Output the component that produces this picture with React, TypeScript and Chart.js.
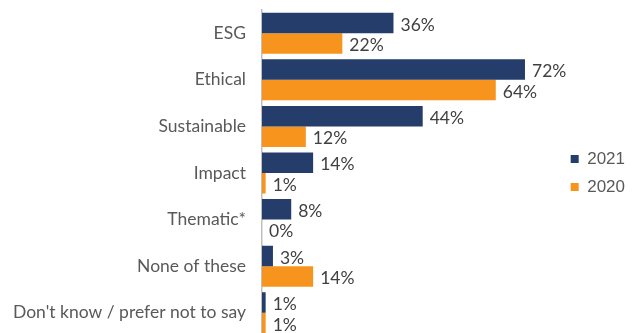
import React, { useEffect, useRef } from "react";
import { Chart, registerables } from "chart.js";

Chart.register(...registerables);

const categories = [
  "ESG",
  "Ethical",
  "Sustainable",
  "Impact",
  "Thematic*",
  "None of these",
  "Don't know / prefer not to say",
];
const values2021 = [36, 72, 44, 14, 8, 3, 1];
const values2020 = [22, 64, 12, 1, 0, 14, 1];
const seriesNames = ["2021", "2020"];

const labelPlugin = {
  id: "barValueLabels",
  afterDatasetsDraw(chart: any) {
    const ctx = chart.ctx;
    ctx.save();
    ctx.font = "17.5px Lato";
    ctx.fillStyle = "#404040";
    ctx.textAlign = "left";
    ctx.textBaseline = "middle";
    chart.data.datasets.forEach((ds: any, di: number) => {
      const meta = chart.getDatasetMeta(di);
      meta.data.forEach((el: any, i: number) => {
        ctx.fillText(ds.data[i] + "%", el.x + 7, el.y + 2);
      });
    });
    ctx.restore();
  },
};

export default function App() {
  const ref = useRef<HTMLCanvasElement | null>(null);
  useEffect(() => {
    if (!ref.current) return;
    const chart = new Chart(ref.current, {
      type: "bar",
      data: {
        labels: categories,
        datasets: [
          {
            label: seriesNames[0],
            data: values2021,
            backgroundColor: "#253D6B",
            barPercentage: 1.0,
            categoryPercentage: 0.88,
          },
          {
            label: seriesNames[1],
            data: values2020,
            backgroundColor: "#F7941D",
            barPercentage: 1.0,
            categoryPercentage: 0.88,
          },
        ],
      },
      options: {
        indexAxis: "y",
        responsive: false,
        animation: false,
        layout: { padding: { top: 10, bottom: 0, left: 0, right: 0 } },
        scales: {
          x: {
            display: false,
            min: 0,
            max: 81.5,
          },
          y: {
            grid: { display: false, drawTicks: false },
            border: { display: true, color: "#BFBFBF", width: 1.5 },
            ticks: {
              font: { family: "Lato", size: 17.5 },
              color: "#595959",
              padding: 16,
            },
            afterFit: (s: any) => {
              s.width = 262;
              s.paddingTop = 0;
              s.paddingBottom = 0;
            },
          },
        },
        plugins: {
          tooltip: { enabled: false },
          legend: {
            position: "right",
            labels: {
              boxWidth: 8,
              boxHeight: 8,
              padding: 11,
              color: "#595959",
              font: { family: "Liberation Sans", size: 17 },
            },
          },
        },
      },
      plugins: [labelPlugin],
    });
    return () => chart.destroy();
  }, []);
  return (
    <div
      style={{
        position: "fixed",
        top: 0,
        left: 0,
        width: 635,
        height: 333,
        overflow: "hidden",
      }}
    >
      <canvas ref={ref} width={635} height={336} style={{ display: "block" }} />
    </div>
  );
}
